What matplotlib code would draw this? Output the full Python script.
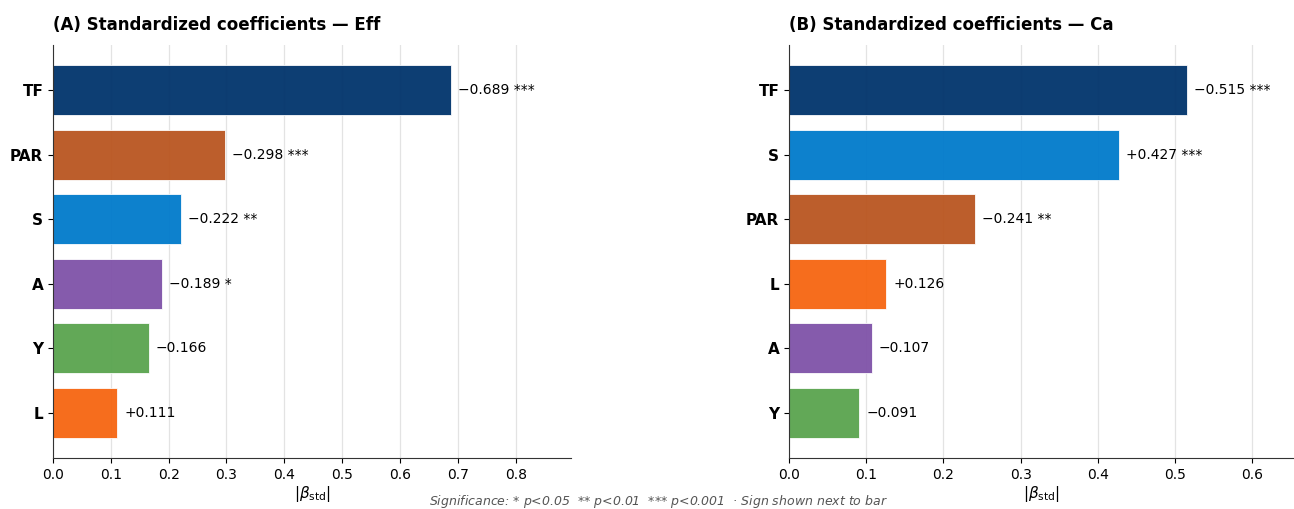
import matplotlib
matplotlib.use("Agg")
import matplotlib.pyplot as plt

# Panel A (Eff)
vars_a = ["TF", "PAR", "S", "A", "Y", "L"]
beta_a = [-0.689, -0.298, -0.222, -0.189, -0.166, 0.111]
sig_a = ["***", "***", "**", "*", "", ""]

# Panel B (Ca)
vars_b = ["TF", "S", "PAR", "L", "A", "Y"]
beta_b = [-0.515, 0.427, -0.241, 0.126, -0.107, -0.091]
sig_b = ["***", "***", "**", "", "", ""]

colors = {"TF": "#00336B", "PAR": "#B95520", "S": "#007ACB",
          "A": "#7F52A8", "Y": "#59A44E", "L": "#F66510"}

fig = plt.figure(figsize=(12.94, 5.09), dpi=100)
W, H = 1294, 509
def add_ax(l, r, t, b):
    return fig.add_axes([l / W, 1 - b / H, (r - l) / W, (b - t) / H])

axA = add_ax(53, 571, 45, 458)
axB = add_ax(789, 1294, 45, 458)

def draw(ax, names, betas, sigs, title, xmax, axw):
    vals = [abs(b) for b in betas]
    ys = list(range(len(names)))
    ax.barh(ys, vals, height=0.78, color=[colors[n] for n in names],
            alpha=0.95, edgecolor="white", linewidth=0.6, zorder=2)
    for y, v, b, s in zip(ys, vals, betas, sigs):
        sign = "+" if b >= 0 else "\u2212"
        txt = f"{sign}{abs(b):.3f}" + (f" {s}" if s else "")
        ax.text(v + xmax * 7.0 / axw, y, txt, va="center", ha="left", fontsize=10)
    ax.set_yticks(ys)
    ax.set_yticklabels(names, fontsize=11, fontweight="bold")
    ax.set_ylim(len(names) - 0.3, -0.7)
    ax.set_xlim(0, xmax)
    ax.xaxis.grid(True, color="#e3e3e3", linewidth=0.9, zorder=0)
    ax.set_axisbelow(True)
    for sp in ["top", "right"]:
        ax.spines[sp].set_visible(False)
    ax.spines["left"].set_color("#333333")
    ax.spines["bottom"].set_color("#333333")
    ax.tick_params(axis="x", labelsize=10)
    ax.set_xlabel(r"$|\beta_{\mathrm{std}}|$", fontsize=11, labelpad=2)
    ax.set_title(title, loc="left", fontsize=12, fontweight="bold", pad=11)

draw(axA, vars_a, beta_a, sig_a, "(A) Standardized coefficients \u2014 Eff", 0.689 * 1.3, 518)
draw(axB, vars_b, beta_b, sig_b, "(B) Standardized coefficients \u2014 Ca", 0.654, 505)

fig.text(658 / W, 1 - 502 / H,
         "Significance: * $p$<0.05  ** $p$<0.01  *** $p$<0.001  \u00b7 Sign shown next to bar",
         ha="center", va="center", fontsize=9, style="italic", color="#555555")

fig.savefig("out.png", dpi=100)
